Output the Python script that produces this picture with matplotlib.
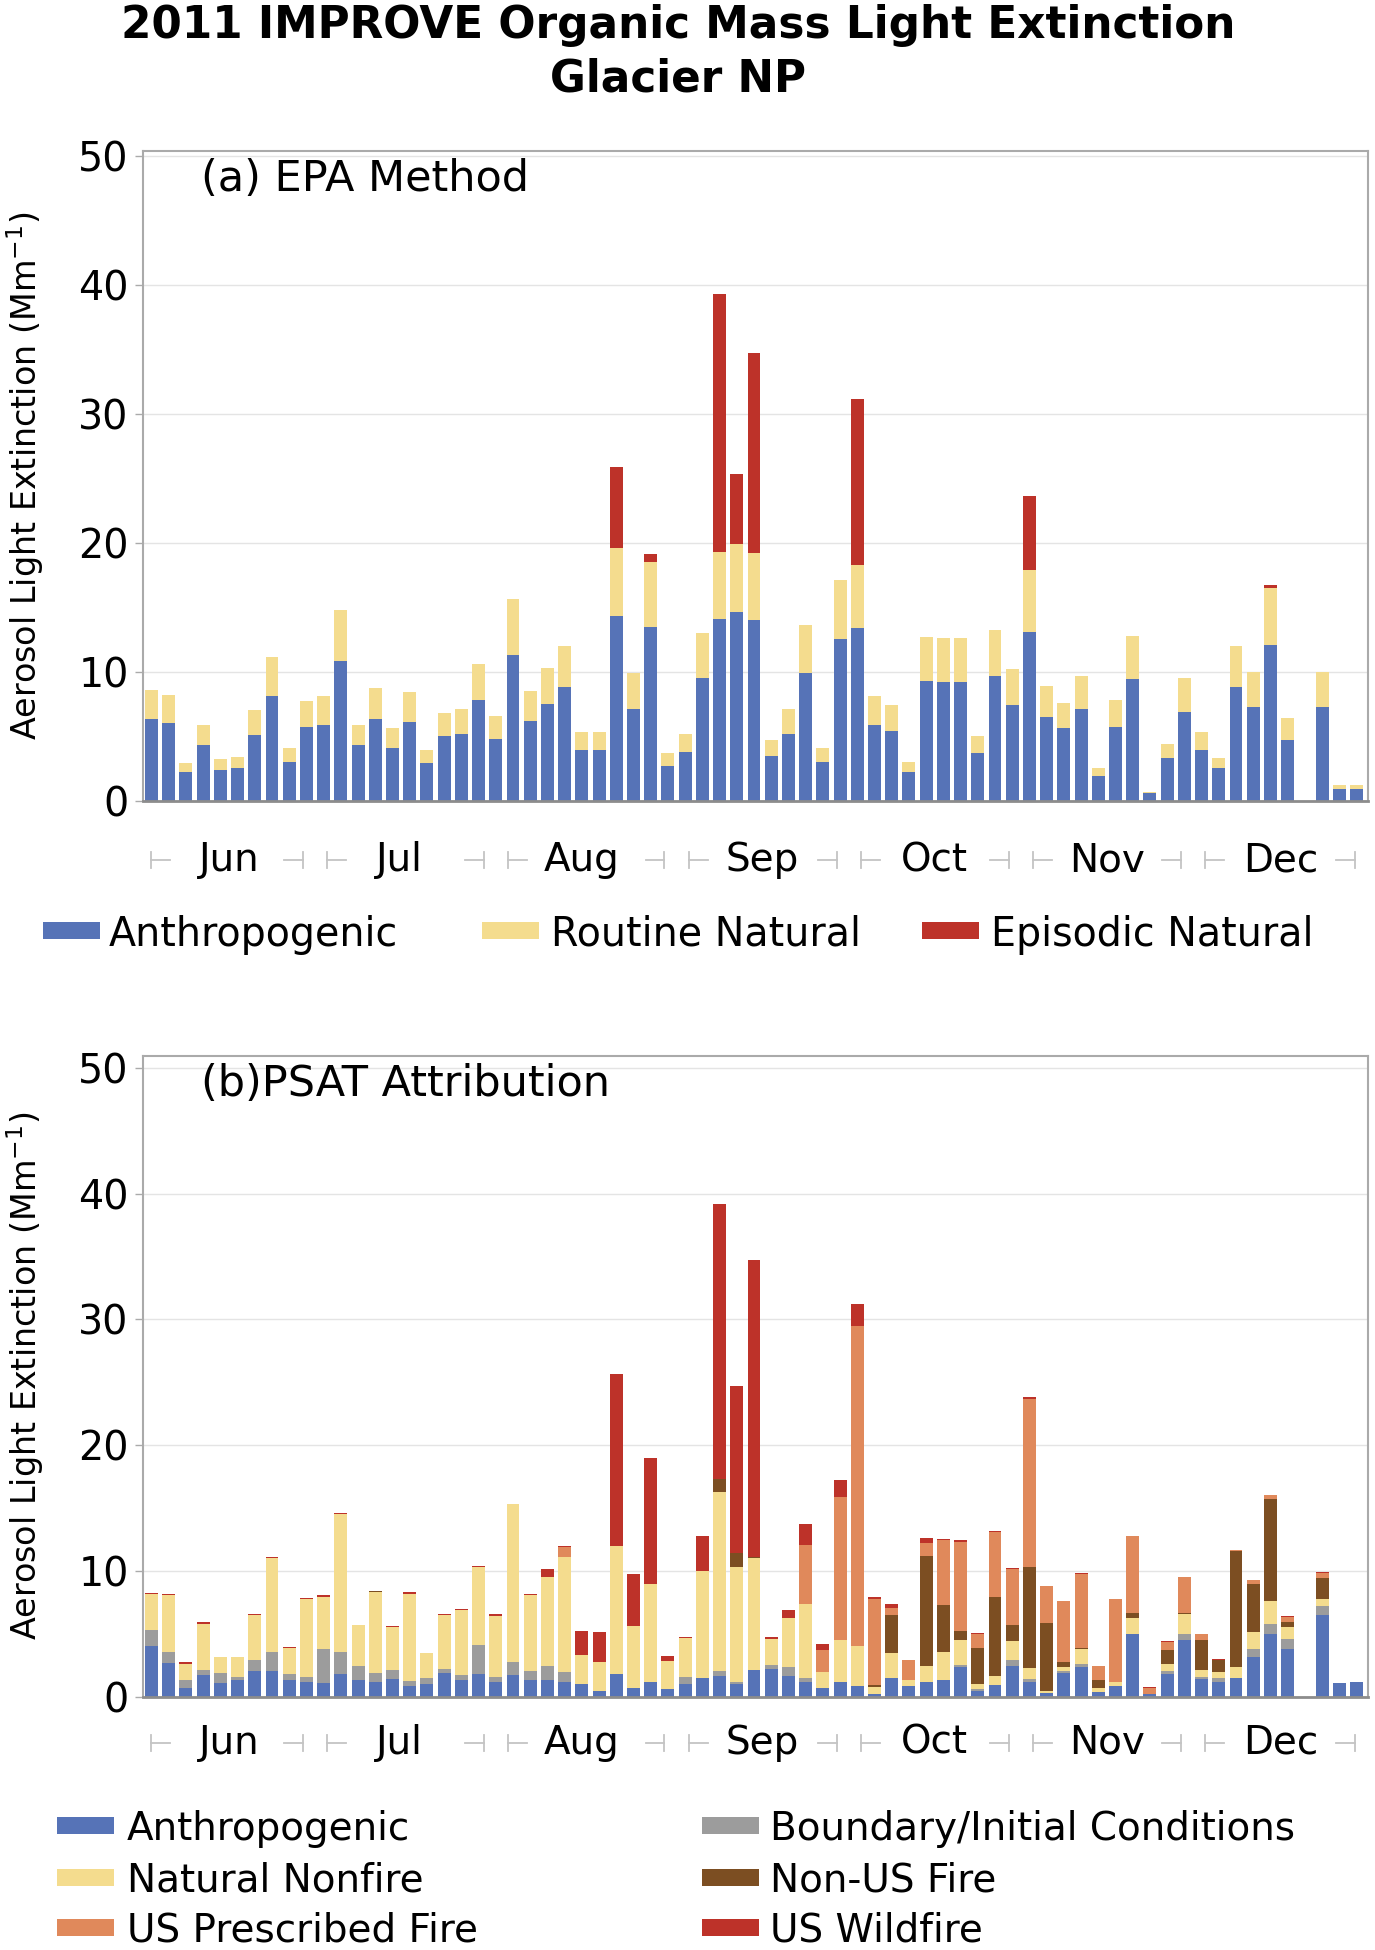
import matplotlib
matplotlib.use('Agg')
import matplotlib.pyplot as plt
from matplotlib.patches import Rectangle
from matplotlib.transforms import blended_transform_factory
import numpy as np

plt.rcParams['font.family'] = ['DejaVu Sans']
plt.rcParams['mathtext.fontset'] = 'dejavusans'

W, H = 1375, 1950

months = ['Jun', 'Jul', 'Aug', 'Sep', 'Oct', 'Nov', 'Dec']
month_pos = [4.5, 14.4, 25.0, 35.5, 45.5, 55.5, 65.6]
month_edges = [0.0, 9.5, 20.0, 30.5, 40.5, 50.5, 60.5, 69.9]

# (a) EPA method, one bar per sample day
anthro_a = [6.3, 6.0, 2.2, 4.3, 2.4, 2.5, 5.1, 8.1, 3.0, 5.7,
            5.9, 10.8, 4.3, 6.3, 4.1, 6.1, 2.9, 5.0, 5.2, 7.8,
            4.8, 11.3, 6.2, 7.5, 8.8, 3.9, 3.9, 14.3, 7.1, 13.5,
            2.7, 3.8, 9.5, 14.1, 14.6, 14.0, 3.5, 5.2, 9.9, 3.0,
            12.5, 13.4, 5.9, 5.4, 2.2, 9.3, 9.2, 9.2, 3.7, 9.7,
            7.4, 13.1, 6.5, 5.6, 7.1, 1.9, 5.7, 9.4, 0.6, 3.3,
            6.9, 3.9, 2.5, 8.8, 7.3, 12.1, 4.7, 0.0, 7.3, 0.9, 0.9]
routine_a = [2.3, 2.2, 0.7, 1.6, 0.8, 0.9, 1.9, 3.0, 1.1, 2.0,
             2.2, 4.0, 1.6, 2.4, 1.5, 2.3, 1.0, 1.8, 1.9, 2.8,
             1.8, 4.3, 2.3, 2.8, 3.2, 1.4, 1.4, 5.3, 2.8, 5.0,
             1.0, 1.4, 3.5, 5.2, 5.3, 5.2, 1.2, 1.9, 3.7, 1.1,
             4.6, 4.9, 2.2, 2.0, 0.8, 3.4, 3.4, 3.4, 1.3, 3.5,
             2.8, 4.8, 2.4, 2.0, 2.6, 0.6, 2.1, 3.4, 0.1, 1.1,
             2.6, 1.4, 0.8, 3.2, 2.7, 4.4, 1.7, 0.0, 2.7, 0.35, 0.35]
episodic_a = [0, 0, 0, 0, 0, 0, 0, 0, 0, 0,
              0, 0, 0, 0, 0, 0, 0, 0, 0, 0,
              0, 0, 0, 0, 0, 0, 0, 6.3, 0, 0.6,
              0, 0, 0, 20.0, 5.4, 15.5, 0, 0, 0, 0,
              0, 12.8, 0, 0, 0, 0, 0, 0, 0, 0,
              0, 5.7, 0, 0, 0, 0, 0, 0, 0, 0,
              0, 0, 0, 0, 0, 0.25, 0, 0, 0, 0, 0]

# (b) PSAT attribution
anthro_b = [4.05, 2.7, 0.66, 1.72, 1.08, 1.32, 2.06, 2.06, 1.3, 1.14,
            1.06, 1.8, 1.35, 1.14, 1.43, 0.85, 1.0, 1.85, 1.32, 1.83,
            1.14, 1.72, 1.3, 1.35, 1.2, 1.04, 0.44, 1.84, 0.73, 1.14,
            0.63, 1.04, 1.52, 1.61, 1.04, 2.15, 2.2, 1.68, 1.14, 0.73,
            1.2, 0.82, 0.2, 1.52, 0.82, 1.14, 1.33, 2.35, 0.48, 0.93,
            2.48, 1.2, 0.27, 1.87, 2.35, 0.4, 0.88, 4.96, 0.21, 1.81,
            4.48, 1.41, 1.2, 1.47, 3.15, 4.96, 3.81, 0.0, 6.48, 1.07, 1.15]
boundary_b = [1.25, 0.85, 0.66, 0.37, 0.77, 0.27, 0.84, 1.46, 0.47, 0.45,
              2.7, 1.72, 1.11, 0.76, 0.69, 0.42, 0.5, 0.35, 0.38, 2.27,
              0.45, 1.0, 0.74, 1.1, 0.76, 0.0, 0.0, 0.0, 0.0, 0.0,
              0.0, 0.54, 0.0, 0.42, 0.16, 0.0, 0.3, 0.69, 0.38, 0.0,
              0.0, 0.0, 0.0, 0.0, 0.0, 0.0, 0.0, 0.18, 0.13, 0.0,
              0.4, 0.21, 0.0, 0.16, 0.26, 0.0, 0.0, 0.0, 0.0, 0.22,
              0.53, 0.19, 0.27, 0.0, 0.66, 0.85, 0.75, 0.0, 0.72, 0.0, 0.0]
natural_b = [2.85, 4.5, 1.28, 3.73, 1.27, 1.53, 3.6, 7.48, 2.12, 6.16,
             4.18, 11.03, 3.28, 6.4, 3.44, 6.93, 1.94, 4.33, 5.18, 6.2,
             4.84, 12.58, 6.03, 7.05, 9.14, 2.28, 2.34, 10.12, 4.9, 7.82,
             2.22, 3.1, 8.45, 14.27, 9.1, 8.85, 2.12, 3.9, 5.85, 1.2,
             3.3, 3.23, 0.6, 1.96, 0.48, 1.33, 2.22, 2.0, 0.4, 0.7,
             1.55, 0.86, 0.21, 0.37, 1.2, 0.27, 0.27, 1.33, 0.0, 0.58,
             1.6, 0.53, 0.48, 0.88, 1.34, 1.82, 0.99, 0.0, 0.53, 0.0, 0.0]
nonus_b = [0, 0, 0, 0, 0, 0, 0, 0, 0, 0,
           0, 0, 0, 0.1, 0, 0, 0, 0, 0, 0,
           0, 0, 0, 0, 0, 0, 0, 0, 0, 0,
           0, 0, 0, 1.04, 1.1, 0.1, 0, 0, 0, 0,
           0, 0, 0.15, 3.02, 0, 8.73, 3.75, 0.7, 2.86, 6.32,
           1.25, 8.08, 5.42, 0.32, 0.08, 0.66, 0.0, 0.4, 0.0, 1.07,
           0.06, 2.4, 0.98, 9.2, 3.78, 8.1, 0.4, 0.0, 1.74, 0.0, 0.0]
prescribed_b = [0, 0, 0, 0, 0, 0, 0, 0, 0, 0,
                0, 0, 0, 0, 0, 0, 0, 0, 0, 0,
                0, 0, 0, 0, 0.8, 0, 0, 0, 0, 0,
                0, 0, 0, 0, 0, 0, 0, 0, 4.73, 1.8,
                11.35, 25.45, 6.85, 0.56, 1.6, 1.0, 5.2, 7.07, 1.13, 5.15,
                4.48, 13.35, 2.93, 4.91, 5.84, 1.1, 6.58, 6.11, 0.46, 0.67,
                2.82, 0.48, 0.0, 0.08, 0.35, 0.27, 0.4, 0.0, 0.4, 0.0, 0.0]
wildfire_b = [0.1, 0.1, 0.18, 0.1, 0.05, 0.05, 0.09, 0.1, 0.08, 0.08,
              0.13, 0.05, 0.0, 0.0, 0.07, 0.1, 0.0, 0.07, 0.1, 0.1,
              0.13, 0.04, 0.08, 0.66, 0.05, 1.93, 2.35, 13.74, 4.12, 10.04,
              0.41, 0.1, 2.78, 21.86, 13.3, 23.6, 0.16, 0.63, 1.6, 0.47,
              1.35, 1.7, 0.14, 0.28, 0.0, 0.4, 0.03, 0.13, 0.07, 0.1,
              0.11, 0.1, 0.0, 0.0, 0.08, 0.0, 0.0, 0.0, 0.08, 0.05,
              0.0, 0.0, 0.06, 0.0, 0.0, 0.0, 0.05, 0.0, 0.08, 0.05, 0.0]

BLUE, YELLOW, RED = '#5673b7', '#f4dc8e', '#bd3229'
GREY, BROWN, ORANGE = '#9c9c9c', '#7c4e22', '#e0895b'

series_a = [('Anthropogenic', anthro_a, BLUE),
            ('Routine Natural', routine_a, YELLOW),
            ('Episodic Natural', episodic_a, RED)]
series_b = [('Anthropogenic', anthro_b, BLUE),
            ('Boundary/Initial Conditions', boundary_b, GREY),
            ('Natural Nonfire', natural_b, YELLOW),
            ('Non-US Fire', nonus_b, BROWN),
            ('US Prescribed Fire', prescribed_b, ORANGE),
            ('US Wildfire', wildfire_b, RED)]

fig = plt.figure(figsize=(W / 100, H / 100), dpi=100)


def px(x, y):
    return x / W, 1 - y / H


def draw_panel(ax, series, ymax, label, month_y):
    x = np.arange(len(series[0][1]))
    bottom = np.zeros(len(x))
    for name, vals, col in series:
        vals = np.array(vals, dtype=float)
        ax.bar(x, vals, bottom=bottom, width=0.75, color=col, linewidth=0)
        bottom += vals
    ax.set_xlim(-0.51, 70.65)
    ax.set_ylim(0, ymax)
    ax.set_yticks(range(0, 51, 10))
    ax.set_xticks([])
    ax.grid(axis='y', color='#e4e4e4', lw=1)
    ax.set_axisbelow(True)
    for s in ['left', 'right', 'top']:
        ax.spines[s].set_color('#aaaaaa')
        ax.spines[s].set_linewidth(1.5)
    ax.spines['bottom'].set_color('#8c8c8c')
    ax.spines['bottom'].set_linewidth(2)
    ax.tick_params(axis='y', length=6, width=1, color='#aaaaaa', labelsize=28.5, pad=4)
    ax.text(0.0476, 0.957, label, transform=ax.transAxes, fontsize=31, va='center')

    # month labels with the little grey brackets
    tr = blended_transform_factory(ax.transData, ax.transAxes)
    for m, c in zip(months, month_pos):
        ax.text(c, month_y, m, transform=tr, ha='center', va='center', fontsize=28)
    for k in range(len(months)):
        s = month_edges[k] + (0.7 if k > 0 else 0)
        e = month_edges[k + 1] - (0.7 if k < len(months) - 1 else 0)
        for a, b in [(s, s + 1.1), (e - 1.1, e)]:
            ax.plot([a, b], [month_y, month_y], transform=tr, color='#c4c4c4', lw=1.3, clip_on=False)
        for v in (s, e):
            ax.plot([v, v], [month_y - 0.012, month_y + 0.012], transform=tr,
                    color='#c4c4c4', lw=1.3, clip_on=False)


def legend_item(x, y, col, text, txt_x, fs):
    l, b = px(x, y + 8.5)
    fig.add_artist(Rectangle((l, b), 57 / W, 17 / H, transform=fig.transFigure,
                             facecolor=col, edgecolor='none'))
    fig.text(txt_x / W, 1 - y / H, text, fontsize=fs, va='center_baseline')


ax_a = fig.add_axes([142.7 / W, 1 - 800.7 / H, 1225 / W, 649.7 / H])
draw_panel(ax_a, series_a, 50.36, '(a) EPA Method', (800.7 - 860) / 649.7)

ax_b = fig.add_axes([142.7 / W, 1 - 1696.7 / H, 1225 / W, 640.7 / H])
draw_panel(ax_b, series_b, 50.95, '(b)PSAT Attribution', (1696.7 - 1743) / 640.7)

fig.text(678 / W, 1 - 38 / H, '2011 IMPROVE Organic Mass Light Extinction',
         ha='center', va='baseline', fontsize=31.5, fontweight='bold')
fig.text(678 / W, 1 - 91 / H, 'Glacier NP',
         ha='center', va='baseline', fontsize=31.5, fontweight='bold')

ylab = 'Aerosol Light Extinction (Mm$^{-1}$)'
fig.text(25 / W, 1 - 476 / H, ylab, rotation=90, ha='center', va='center', fontsize=24)
fig.text(25 / W, 1 - 1376 / H, ylab, rotation=90, ha='center', va='center', fontsize=24)

# legend (a)
for (name, vals, col), x, tx in zip(series_a, [43, 482, 922], [109, 551, 991]):
    legend_item(x, 930, col, name, tx, 28.5)

# legend (b): two columns, three rows
rows = [1825, 1877, 1927]
for i, (name, vals, col) in enumerate(series_b):
    r, c = i // 2, i % 2
    legend_item([57, 702][c], rows[r], col, name, [127, 770][c], 28)

fig.savefig('out.png', dpi=100)
